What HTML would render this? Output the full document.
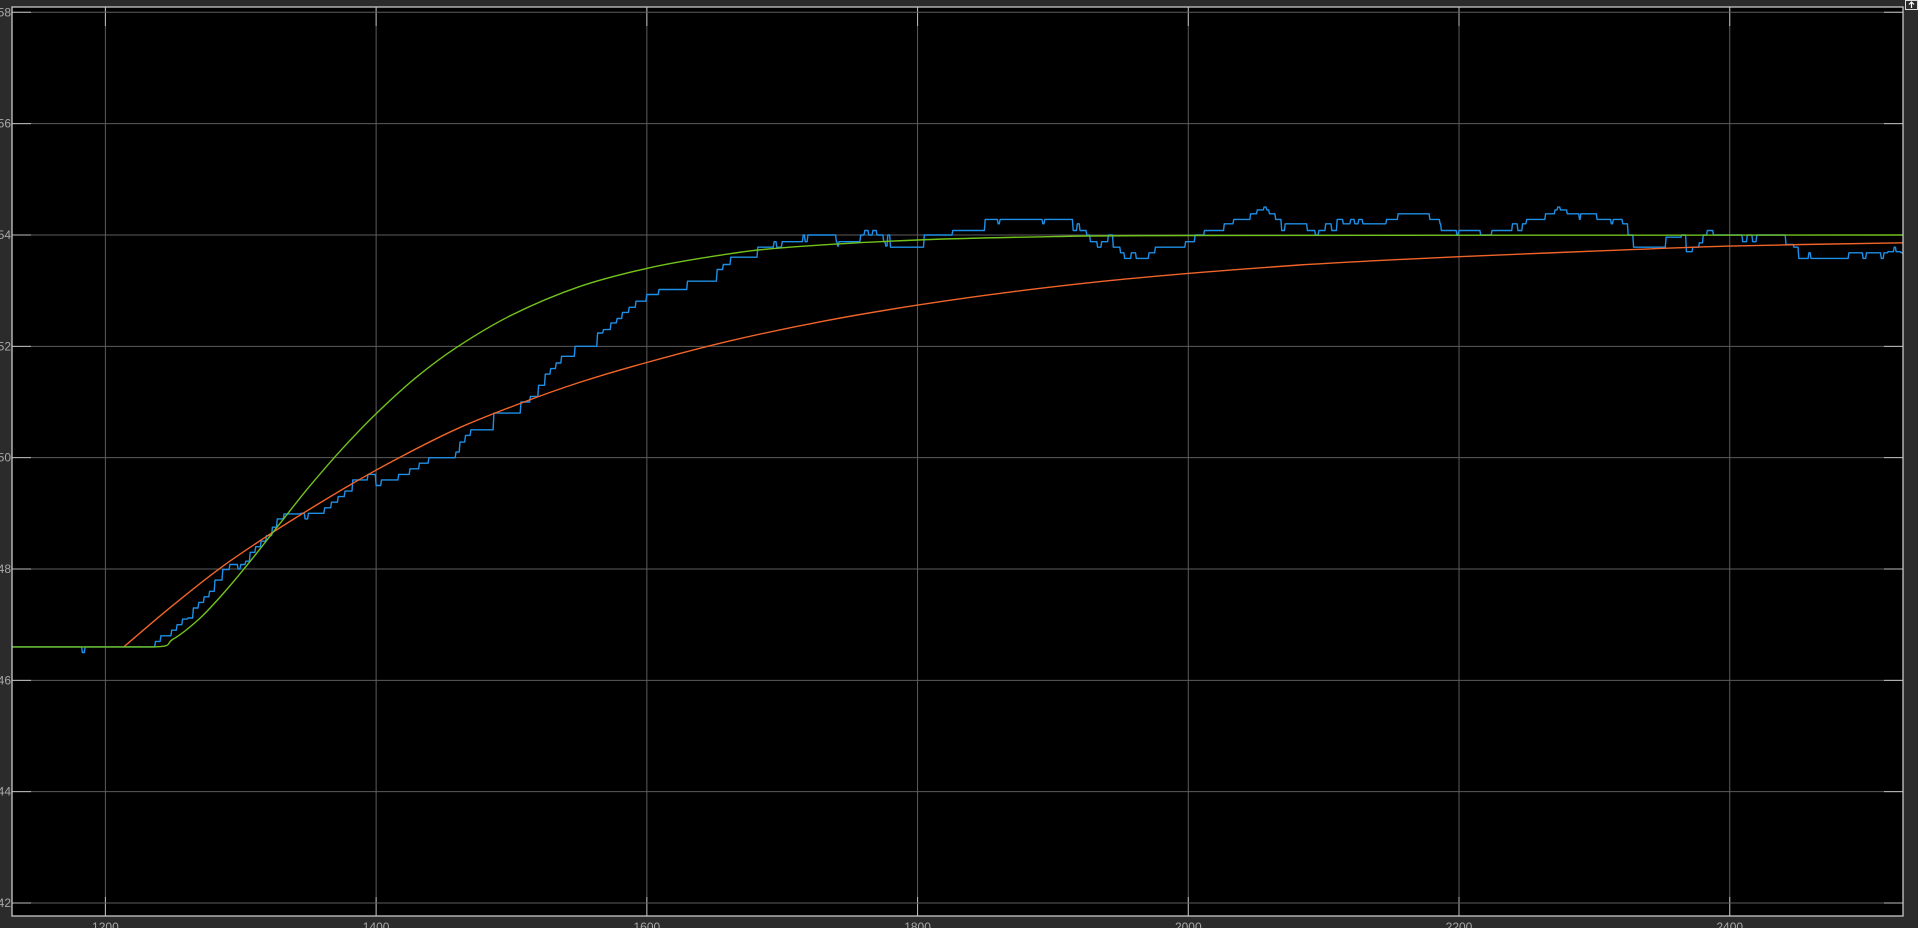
<!DOCTYPE html>
<html><head><meta charset="utf-8">
<style>
html,body{margin:0;padding:0;background:#2b2b2b;width:1918px;height:928px;overflow:hidden}
svg{display:block}
text{font-family:"Liberation Sans",sans-serif;font-size:12px;fill:#a8a8a8}
</style></head>
<body>
<svg id="chart" width="1918" height="928" viewBox="0 0 1918 928" xmlns="http://www.w3.org/2000/svg">
<rect x="0" y="0" width="1918" height="928" fill="#2b2b2b"/>
<rect x="12" y="7" width="1891" height="909" fill="#000"/>
<g id="grid"></g>
<g id="series"></g>
<rect x="12" y="7" width="1891" height="909" fill="none" stroke="#c8c8c8" stroke-width="1.3"/>
<g id="labels"></g>
<g>
<rect x="1905.5" y="0.5" width="12" height="9" fill="#2b2b2b" stroke="#ddd" stroke-width="1"/>
<path d="M1911.5 2 L1911.5 8 M1909 4.5 L1911.5 2 L1914 4.5" stroke="#fff" stroke-width="1.2" fill="none"/>
</g>
</svg>
<script>
const xTicks=[1200,1400,1600,1800,2000,2200,2400];
const yTicks=[42,44,46,48,50,52,54,56,58];
const greenT=[1131,1232,1250,1270,1290,1310,1330,1350,1375,1400,1430,1460,1500,1550,1600,1650,1700,1800,1900,2000,2528];
const greenV=[46.6,46.6,46.74,47.12,47.64,48.23,48.85,49.46,50.16,50.79,51.45,51.99,52.56,53.07,53.4,53.62,53.77,53.91,53.97,53.99,54.0];
const orangeT=[1213.5,1250,1285,1320,1346,1380,1417,1460,1507,1550,1600,1662,1730,1800,1870,1942,2010,2082,2140,2200,2300,2400,2528];
const orangeV=[46.6,47.35,48.02,48.6,49.0,49.5,50.0,50.52,50.98,51.35,51.71,52.1,52.45,52.74,52.98,53.18,53.33,53.46,53.54,53.61,53.71,53.8,53.86];
const blueT=[1131,1181,1183,1185,1233,1237,1241,1245,1249,1253,1257,1261,1265,1269,1273,1277,1281,1286.7,1292,1298,1300,1303.7,1307,1311,1315,1319,1323.4,1327,1332,1344.6,1347.5,1350,1357,1362,1367,1372,1377,1382.8,1388,1394,1400,1404,1408,1416.7,1425,1432,1439,1459,1462,1466,1470,1480,1487,1503,1507,1514,1520,1525,1529,1533,1537,1547,1555,1563.6,1568,1573.5,1578,1582,1587,1592,1600,1609,1620,1630,1646.6,1652,1656.5,1662,1676,1682,1693,1694,1696,1700,1714,1715.5,1717,1719,1735.6,1740,1741,1742,1757,1758,1761,1764,1767,1770,1772,1775,1776.5,1778,1780,1783.6,1800.6,1805,1824.6,1826,1847,1850,1858,1859.5,1861,1891,1892.5,1894,1912,1915,1918,1920,1922,1925,1927.7,1933,1936,1941,1944.6,1950,1953,1958,1961.6,1968.6,1971,1975.7,1995.5,1998,2005,2012,2023.6,2026.6,2033.6,2046,2051,2056,2058,2060,2064.6,2069,2071.6,2082.6,2088,2094,2096.5,2101.5,2106,2110,2114.5,2120,2123,2126,2129,2145,2146.5,2155,2170,2178.5,2186,2187,2197,2198.5,2200,2216,2217.7,2224.4,2236.6,2239.5,2243.5,2247,2250,2264,2271,2273,2275,2280,2289,2290,2299,2302,2311,2312.5,2314,2321,2325,2329,2348.6,2353,2364.5,2368,2371,2372.7,2377.6,2380.5,2383.4,2386,2388,2406,2409.6,2413,2416,2417,2420,2438.7,2441.6,2447.4,2451,2457,2458.5,2460,2486.7,2488,2496,2498.5,2501,2509,2512,2514,2517,2521.5,2523,2526.7,2528];
const blueV=[46.6,46.6,46.5,46.6,46.6,46.7,46.8,46.8,46.9,47.0,47.1,47.12,47.3,47.4,47.5,47.6,47.8,47.99,48.08,48.0,48.08,48.14,48.3,48.4,48.5,48.6,48.75,48.9,48.99,49.0,48.9,49.0,49.0,49.1,49.2,49.3,49.4,49.6,49.6,49.7,49.5,49.6,49.6,49.7,49.8,49.9,50.0,50.1,50.28,50.4,50.5,50.5,50.8,50.8,51.0,51.1,51.3,51.5,51.6,51.7,51.82,52.0,52.0,52.24,52.3,52.42,52.5,52.61,52.7,52.81,52.93,53.02,53.02,53.17,53.17,53.38,53.47,53.6,53.6,53.78,53.78,53.88,53.78,53.88,53.88,54.0,53.88,54.0,54.0,53.88,53.8,53.88,53.88,54.0,54.08,54.0,54.08,54.0,54.0,53.88,53.8,54.0,53.78,53.78,53.78,54.0,54.0,54.08,54.08,54.28,54.28,54.2,54.28,54.28,54.2,54.28,54.28,54.08,54.2,54.08,54.08,54.0,53.88,53.78,53.88,54.0,53.78,53.68,53.58,53.68,53.58,53.58,53.68,53.78,53.78,53.88,54.0,54.08,54.08,54.2,54.28,54.38,54.45,54.5,54.45,54.38,54.28,54.08,54.2,54.2,54.08,54.0,54.08,54.2,54.08,54.28,54.2,54.28,54.2,54.28,54.2,54.2,54.28,54.38,54.38,54.28,54.2,54.08,54.08,54.0,54.08,54.0,54.0,54.08,54.08,54.2,54.08,54.2,54.28,54.38,54.45,54.5,54.45,54.38,54.28,54.38,54.38,54.28,54.28,54.2,54.28,54.2,54.0,53.78,53.78,53.96,54.0,53.7,53.7,53.78,53.86,54.0,54.08,54.08,54.0,54.0,53.88,54.0,54.0,53.88,54.0,54.0,53.83,53.78,53.58,53.58,53.68,53.58,53.58,53.68,53.68,53.58,53.68,53.68,53.58,53.68,53.7,53.78,53.7,53.68,53.68];

const X0=1131,X1=2528,PX0=12,PX1=1903;
const Y0=58,Y1=42,PY0=12.3,PY1=903;
const sx=t=>PX0+(t-X0)/(X1-X0)*(PX1-PX0);
const sy=v=>PY0+(Y0-v)/(Y0-Y1)*(PY1-PY0);
const NS='http://www.w3.org/2000/svg';
const grid=document.getElementById('grid'),labels=document.getElementById('labels'),series=document.getElementById('series');
function mk(tag,attrs,parent){const e=document.createElementNS(NS,tag);for(const k in attrs)e.setAttribute(k,attrs[k]);parent.appendChild(e);return e;}
xTicks.forEach(t=>{
  const x=sx(t);
  const l=mk('line',{x1:x,x2:x,y1:7,y2:916,stroke:'#5c5c5c','stroke-width':1},grid);
  
  
  const tk=mk('line',{x1:x,x2:x,y1:7,y2:26,stroke:'#bbb','stroke-width':1},grid);
  
  
  const tb=mk('line',{x1:x,x2:x,y1:897,y2:916,stroke:'#bbb','stroke-width':1},grid);
  
  
  const tx=mk('text',{x:x,y:931,'text-anchor':'middle'},labels);tx.textContent=t;
  
  
});
yTicks.forEach(v=>{
  const y=sy(v);
  const l=mk('line',{x1:12,x2:1903,y1:y,y2:y,stroke:'#5c5c5c','stroke-width':1},grid);
  
  
  const tk=mk('line',{x1:12,x2:31,y1:y,y2:y,stroke:'#bbb','stroke-width':1},grid);
  
  
  const tr=mk('line',{x1:1884,x2:1903,y1:y,y2:y,stroke:'#bbb','stroke-width':1},grid);
  
  
  const tx=mk('text',{x:11,y:y+4,'text-anchor':'end'},labels);tx.textContent=v;
  
  
});
function smoothPath(T,V){
  const P=T.map((t,i)=>[sx(t),sy(V[i])]);
  let d='M'+P[0][0].toFixed(1)+' '+P[0][1].toFixed(1);
  for(let i=0;i<P.length-1;i++){
    const p0=P[Math.max(0,i-1)],p1=P[i],p2=P[i+1],p3=P[Math.min(P.length-1,i+2)];
    let c1x=p1[0]+(p2[0]-p0[0])/6,c1y=p1[1]+(p2[1]-p0[1])/6;
    let c2x=p2[0]-(p3[0]-p1[0])/6,c2y=p2[1]-(p3[1]-p1[1])/6;
    if(p1[1]===p2[1]){c1y=p1[1];c2y=p2[1];}
    if(p0[1]===p1[1]&&i>0){c1y=p1[1];}
    d+=' C'+c1x.toFixed(1)+' '+c1y.toFixed(1)+' '+c2x.toFixed(1)+' '+c2y.toFixed(1)+' '+p2[0].toFixed(1)+' '+p2[1].toFixed(1);
  }
  return d;
}
function stepPath(T,V){
  let d='M'+sx(T[0]).toFixed(1)+' '+sy(V[0]).toFixed(1);
  for(let i=1;i<T.length;i++){
    const x=sx(T[i]).toFixed(1);
    d+=' L'+(x-0.8).toFixed(1)+' '+sy(V[i-1]).toFixed(1)+' L'+x+' '+sy(V[i]).toFixed(1);
  }
  return d;
}
function draw(d,color,name){
  const p=mk('path',{d:d,fill:'none',stroke:color,'stroke-width':1.4,'stroke-linejoin':'round'},series);
  
  
}
draw(stepPath(blueT,blueV),'#1e8fe6','measured-signal-line');
draw(smoothPath(orangeT,orangeV),'#f0642a','first-order-model-line');
draw(smoothPath(greenT,greenV),'#72c21c','second-order-model-line');
</script>
</body></html>
